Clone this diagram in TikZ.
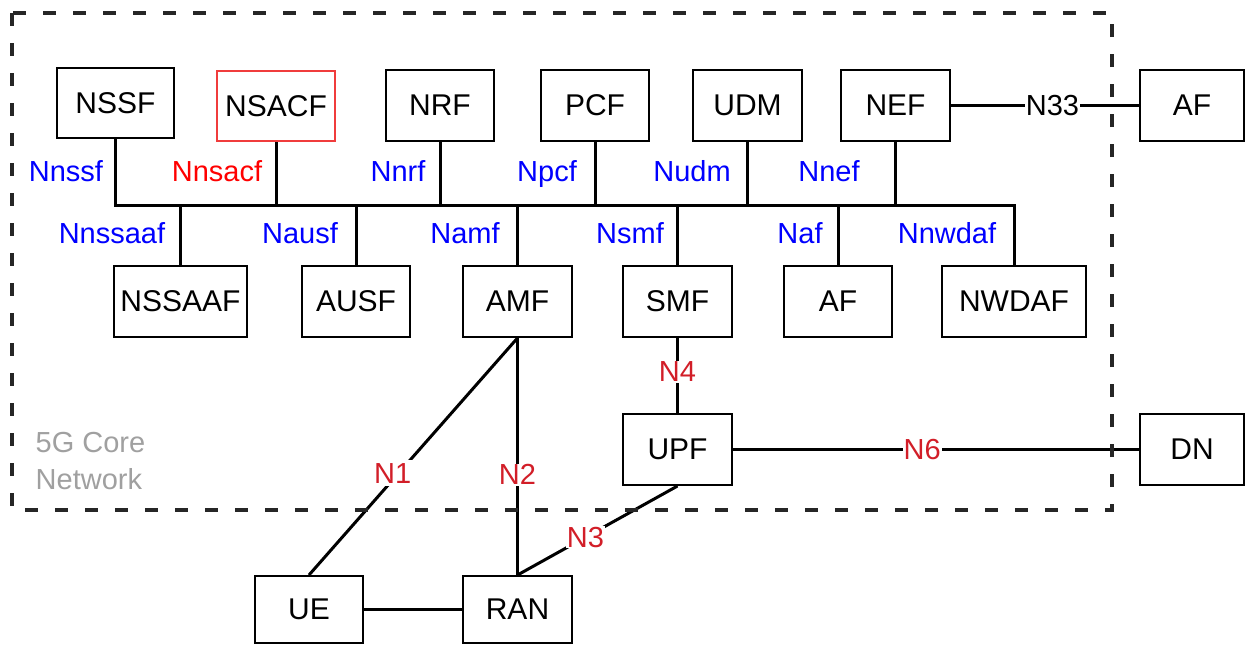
\documentclass[tikz,border=0pt]{standalone}
\usepackage{fontspec}
\setmainfont{Liberation Sans}
\definecolor{nblue}{RGB}{0,0,255}
\definecolor{nred}{RGB}{255,0,0}
\definecolor{ired}{RGB}{210,30,40}
\definecolor{boxred}{RGB}{240,60,60}
\definecolor{coregray}{RGB}{160,160,160}
\begin{document}
\begin{tikzpicture}[x=1pt,y=-1pt,
  box/.style={draw=black,line width=2pt,inner sep=0pt,minimum height=71,font=\fontsize{30}{34}\selectfont},
  redbox/.style={box,draw=boxred},
  conn/.style={line width=3pt},
  blbl/.style={text=nblue,inner sep=0pt,anchor=base,font=\fontsize{29}{34}\selectfont},
  rlbl/.style={text=nred,inner sep=0pt,anchor=base,font=\fontsize{29}{34}\selectfont},
  ilbl/.style={text=ired,fill=white,inner sep=1pt,font=\fontsize{29}{34}\selectfont},
  klbl/.style={text=black,fill=white,inner sep=1pt,font=\fontsize{29}{34}\selectfont},
  corebox/.style={dash pattern=on 13pt off 17pt,line width=3.5pt,black!85}
]
\useasboundingbox (0,0) rectangle (1246,645);
% top row
\node[box,minimum width=117,minimum height=70] (nssf) at (115.5,103) {NSSF};
\node[redbox,minimum width=118,minimum height=70] (nsacf) at (276,106) {NSACF};
\node[box,minimum width=108] (nrf) at (440,105.5) {NRF};
\node[box,minimum width=108] (pcf) at (595,105.5) {PCF};
\node[box,minimum width=109] (udm) at (747.5,105.5) {UDM};
\node[box,minimum width=109] (nef) at (895.5,105.5) {NEF};
\node[box,minimum width=104] (af1) at (1192,105.5) {AF};
% lower row
\node[box,minimum width=133] (nssaaf) at (180.5,301.5) {NSSAAF};
\node[box,minimum width=108] (ausf) at (356,301.5) {AUSF};
\node[box,minimum width=109] (amf) at (517.5,301.5) {AMF};
\node[box,minimum width=109] (smf) at (677.5,301.5) {SMF};
\node[box,minimum width=108] (af2) at (838,301.5) {AF};
\node[box,minimum width=144] (nwdaf) at (1014,301.5) {NWDAF};
% user plane
\node[box,minimum width=109] (upf) at (677.5,449.5) {UPF};
\node[box,minimum width=104] (dn) at (1192,449.5) {DN};
\node[box,minimum width=108,minimum height=67] (ue) at (309,609.5) {UE};
\node[box,minimum width=109,minimum height=67] (ran) at (517.5,609.5) {RAN};
% bus
\coordinate (bus) at (0,205);
\draw[conn] (nssf.south) -- (nssf.south |- bus) -- (nwdaf.north |- bus) -- (nwdaf.north);
\foreach \n in {nsacf,nrf,pcf,udm,nef}{\draw[conn] (\n.south) -- (\n.south |- bus);}
\foreach \n in {nssaaf,ausf,amf,smf,af2}{\draw[conn] (\n.north) -- (\n.north |- bus);}
% service-based interface labels
\node[blbl] (lnssf) at (66,181) {Nnssf};
\node[rlbl] (lnsacf) at (217,181) {Nnsacf};
\node[blbl] (lnrf) at (398,181) {Nnrf};
\node[blbl] (lnpcf) at (547,181) {Npcf};
\node[blbl] (lnudm) at (692,181) {Nudm};
\node[blbl] (lnnef) at (829,181) {Nnef};
\node[blbl] (lnssaaf) at (112,243) {Nnssaaf};
\node[blbl] (lnausf) at (300,243) {Nausf};
\node[blbl] (lnamf) at (465,243) {Namf};
\node[blbl] (lnsmf) at (630,243) {Nsmf};
\node[blbl] (lnaf) at (800,243) {Naf};
\node[blbl] (lnnwdaf) at (947,243) {Nnwdaf};
% reference points
\draw[conn] (nef.east) -- node[klbl,pos=0.54] (n33) {N33} (af1.west);
\draw[conn] (smf.south) -- node[ilbl,pos=0.45] (n4) {N4} (upf.north);
\draw[conn] (upf.east) -- node[ilbl,pos=0.466] (n6) {N6} (dn.west);
\draw[conn] (amf.south) -- node[ilbl,pos=0.57,xshift=-6pt,inner sep=3pt] (n1) {N1} (ue.north);
\draw[conn] (amf.south) -- node[ilbl,pos=0.577] (n2) {N2} (ran.north);
\draw[conn] (ran.north) -- node[ilbl,pos=0.425] (n3) {N3} (upf.south);
\draw[conn] (ue.east) -- (ran.west);
% core network boundary
\draw[corebox] (12,13) rectangle (1112,510);
\node[text=coregray,align=left,inner sep=0pt,font=\fontsize{29}{37}\selectfont] (core) at (90.5,461.5) {5G Core\\Network};
\end{tikzpicture}
\end{document}
